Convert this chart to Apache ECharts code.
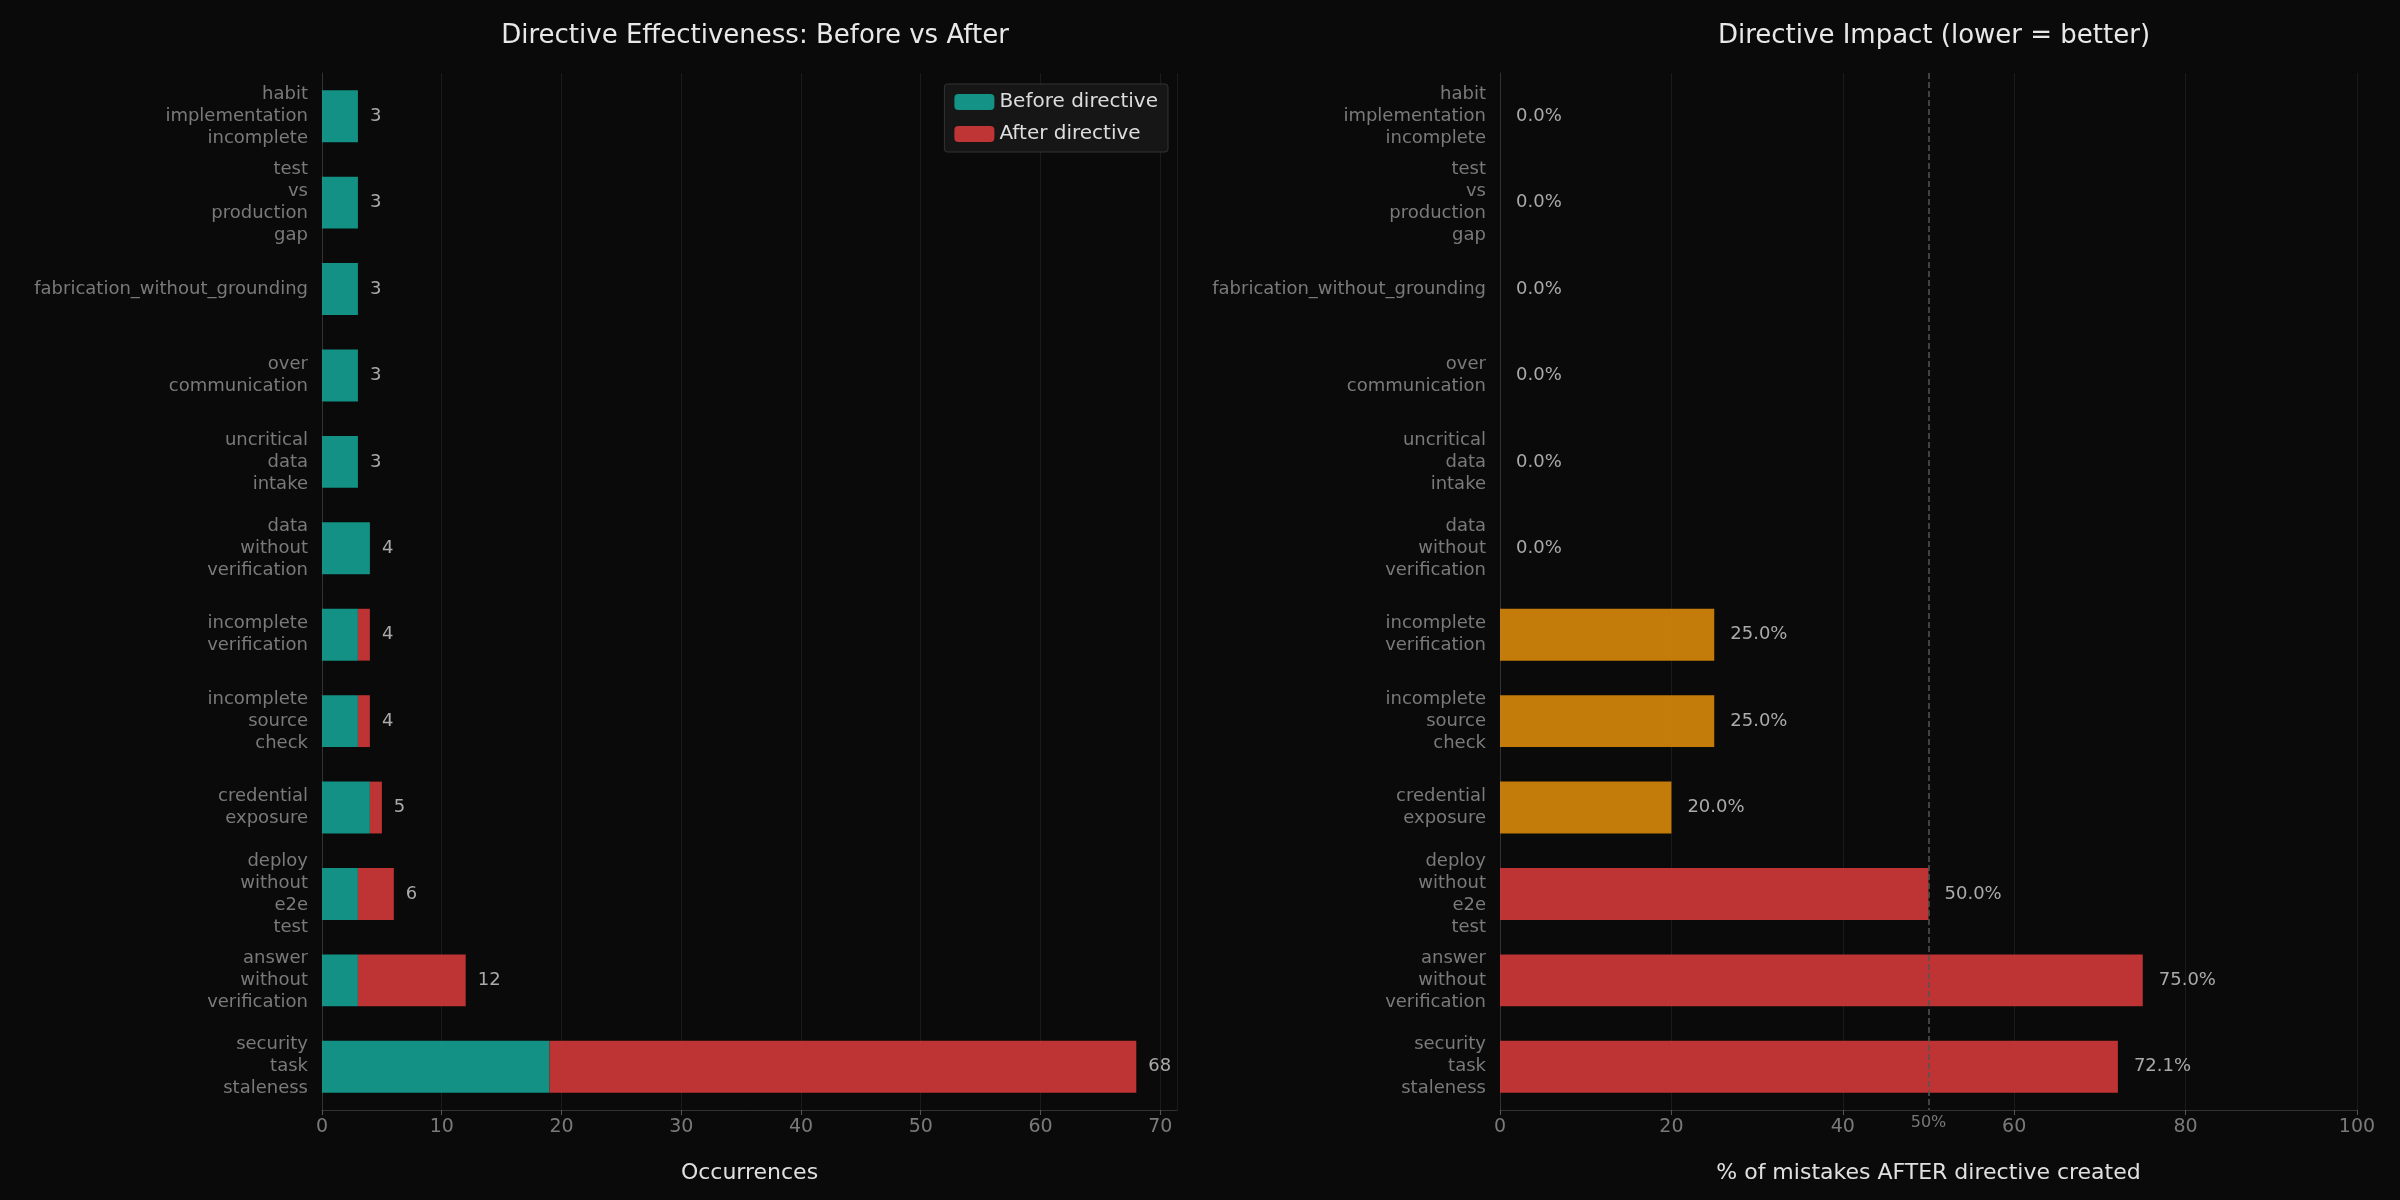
<!DOCTYPE html>
<html>
<head>
<meta charset="utf-8">
<script src="https://cdn.jsdelivr.net/npm/echarts@6/dist/echarts.min.js"></script>
<style>
html, body { margin: 0; background: #0a0a0a; }
#chart { width: 2400px; height: 1200px; }
</style>
</head>
<body>
<div id="chart"></div>
<script>
const categories = [
    'habit\nimplementation\nincomplete',
    'test\nvs\nproduction\ngap',
    'fabrication_without_grounding',
    'over\ncommunication',
    'uncritical\ndata\nintake',
    'data\nwithout\nverification',
    'incomplete\nverification',
    'incomplete\nsource\ncheck',
    'credential\nexposure',
    'deploy\nwithout\ne2e\ntest',
    'answer\nwithout\nverification',
    'security\ntask\nstaleness'
];
const beforeValues = [3, 3, 3, 3, 3, 4, 3, 3, 4, 3, 3, 19];
const afterValues = [0, 0, 0, 0, 0, 0, 1, 1, 1, 3, 9, 49];
const afterPercent = [0, 0, 0, 0, 0, 0, 25, 25, 20, 50, 75, 72.1];

const totals = beforeValues.map((v, i) => v + afterValues[i]);
const labelColor = '#7a7a7a';
const axisLineColor = '#333';
const gridColor = 'rgba(255,255,255,0.07)';

const chart = echarts.init(document.getElementById('chart'));

const catAxis = (idx) => ({
    type: 'category', gridIndex: idx, data: categories, inverse: true,
    axisLine: { lineStyle: { color: axisLineColor } },
    axisTick: { alignWithLabel: true, length: 6, lineStyle: { color: '#555' } },
    axisLabel: { color: labelColor, fontSize: 18, lineHeight: 22, fontFamily: 'DejaVu Sans', margin: 14 }
});

const option = {
    backgroundColor: '#0a0a0a',
    textStyle: { fontFamily: 'DejaVu Sans' },
    title: [
        { text: 'Directive Effectiveness: Before vs After', left: 750, top: 18, textAlign: 'center',
          textStyle: { color: '#e8e8e8', fontSize: 26, fontWeight: 'normal' } },
        { text: 'Directive Impact (lower = better)', left: 1929, top: 18, textAlign: 'center',
          textStyle: { color: '#e8e8e8', fontSize: 26, fontWeight: 'normal' } }
    ],
    legend: {
        data: ['Before directive', 'After directive'],
        orient: 'vertical', right: 1232, top: 84,
        itemWidth: 40, itemHeight: 16, itemGap: 12,
        padding: [8, 10],
        backgroundColor: '#161616', borderColor: '#333', borderWidth: 1, borderRadius: 3,
        textStyle: { color: '#ddd', fontSize: 20 }
    },
    grid: [
        { left: 322, width: 855, top: 73, height: 1037 },
        { left: 1500, width: 857, top: 73, height: 1037 }
    ],
    xAxis: [
        { type: 'value', gridIndex: 0, min: 0, max: 71.4, interval: 10,
          name: 'Occurrences', nameLocation: 'middle', nameGap: 52,
          nameTextStyle: { color: '#e0e0e0', fontSize: 22 },
          axisLine: { show: true, lineStyle: { color: axisLineColor } },
          axisTick: { show: true, lineStyle: { color: '#555' } },
          axisLabel: { color: labelColor, fontSize: 19, showMaxLabel: false },
          splitLine: { lineStyle: { color: gridColor } } },
        { type: 'value', gridIndex: 1, min: 0, max: 100, interval: 20,
          name: '% of mistakes AFTER directive created', nameLocation: 'middle', nameGap: 52,
          nameTextStyle: { color: '#e0e0e0', fontSize: 22 },
          axisLine: { show: true, lineStyle: { color: axisLineColor } },
          axisTick: { show: true, lineStyle: { color: '#555' } },
          axisLabel: { color: labelColor, fontSize: 19 },
          splitLine: { lineStyle: { color: gridColor } } }
    ],
    yAxis: [catAxis(0), catAxis(1)],
    series: [
        { name: 'Before directive', type: 'bar', stack: 'a', xAxisIndex: 0, yAxisIndex: 0,
          data: beforeValues, barWidth: '60%',
          itemStyle: { color: 'rgba(20,160,145,0.9)' } },
        { name: 'After directive', type: 'bar', stack: 'a', xAxisIndex: 0, yAxisIndex: 0,
          data: afterValues, barWidth: '60%',
          itemStyle: { color: 'rgba(210,55,55,0.9)' },
          label: { show: true, position: 'right', distance: 12, color: '#aaa', fontSize: 18,
                   formatter: p => String(totals[p.dataIndex]) } },
        { name: 'impact', type: 'bar', xAxisIndex: 1, yAxisIndex: 1,
          data: afterPercent.map(v => ({ value: v,
              itemStyle: { color: v >= 50 ? 'rgba(210,55,55,0.9)' : 'rgba(215,135,10,0.9)' } })),
          barWidth: '60%',
          label: { show: true, position: 'right', distance: 16, color: '#aaa', fontSize: 18,
                   formatter: p => p.value.toFixed(1) + '%' },
          markLine: {
              symbol: 'none', silent: true,
              lineStyle: { color: '#555', type: 'dashed', width: 1.5 },
              label: { formatter: '50%', position: 'end', color: '#777', fontSize: 16 },
              data: [{ xAxis: 50 }]
          } }
    ]
};

chart.setOption(option);
</script>
</body>
</html>
